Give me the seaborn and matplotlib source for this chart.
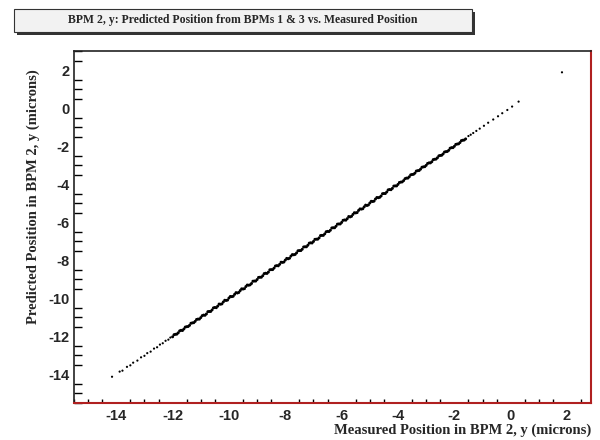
import matplotlib
matplotlib.use("Agg")
import matplotlib.pyplot as plt
from matplotlib.patches import Rectangle
from matplotlib.ticker import MultipleLocator
import seaborn as sns
import pandas as pd

title = "BPM 2, y: Predicted Position from BPMs 1 & 3 vs. Measured Position"
xlabel = "Measured Position in BPM 2, y (microns)"
ylabel = "Predicted Position in BPM 2, y (microns)"

# sparse tails
x_low = [-14.15, -13.88, -13.78, -13.62, -13.5, -13.4, -13.25, -13.12, -13.0, -12.9,
         -12.78, -12.66, -12.55, -12.45, -12.35, -12.25, -12.15, -12.08]
y_low = [-14.12, -13.85, -13.80, -13.60, -13.52, -13.38, -13.27, -13.10, -13.02, -12.88,
         -12.80, -12.64, -12.57, -12.43, -12.36, -12.23, -12.17, -12.06]

x_high = [-1.5, -1.42, -1.33, -1.22, -1.1, -0.95, -0.8, -0.62, -0.45, -0.3, -0.12, 0.05, 0.28, 1.82]
y_high = [-1.47, -1.40, -1.31, -1.20, -1.08, -0.93, -0.77, -0.60, -0.43, -0.27, -0.10, 0.08, 0.34, 1.88]

# dense core of the band
x_dense = [-12.0, -11.9, -11.8, -11.7, -11.6, -11.5, -11.4, -11.3, -11.2, -11.1,
           -11.0, -10.9, -10.8, -10.7, -10.6, -10.5, -10.4, -10.3, -10.2, -10.1,
           -10.0, -9.9, -9.8, -9.7, -9.6, -9.5, -9.4, -9.3, -9.2, -9.1,
           -9.0, -8.9, -8.8, -8.7, -8.6, -8.5, -8.4, -8.3, -8.2, -8.1,
           -8.0, -7.9, -7.8, -7.7, -7.6, -7.5, -7.4, -7.3, -7.2, -7.1,
           -7.0, -6.9, -6.8, -6.7, -6.6, -6.5, -6.4, -6.3, -6.2, -6.1,
           -6.0, -5.9, -5.8, -5.7, -5.6, -5.5, -5.4, -5.3, -5.2, -5.1,
           -5.0, -4.9, -4.8, -4.7, -4.6, -4.5, -4.4, -4.3, -4.2, -4.1,
           -4.0, -3.9, -3.8, -3.7, -3.6, -3.5, -3.4, -3.3, -3.2, -3.1,
           -3.0, -2.9, -2.8, -2.7, -2.6, -2.5, -2.4, -2.3, -2.2, -2.1,
           -2.0, -1.9, -1.8, -1.7, -1.6]
y_dense = [-12.02, -11.89, -11.81, -11.68, -11.61, -11.49, -11.42, -11.29, -11.21, -11.09,
           -11.01, -10.88, -10.82, -10.69, -10.61, -10.48, -10.41, -10.31, -10.19, -10.11,
           -9.98, -9.91, -9.79, -9.72, -9.59, -9.51, -9.38, -9.31, -9.22, -9.09,
           -9.01, -8.89, -8.81, -8.68, -8.62, -8.49, -8.41, -8.28, -8.21, -8.11,
           -7.99, -7.92, -7.78, -7.71, -7.61, -7.49, -7.42, -7.29, -7.21, -7.08,
           -7.01, -6.89, -6.82, -6.69, -6.61, -6.48, -6.42, -6.29, -6.21, -6.09,
           -6.01, -5.88, -5.81, -5.72, -5.59, -5.51, -5.38, -5.31, -5.19, -5.12,
           -4.99, -4.91, -4.78, -4.71, -4.62, -4.49, -4.41, -4.28, -4.22, -4.09,
           -4.01, -3.89, -3.81, -3.68, -3.61, -3.49, -3.42, -3.29, -3.21, -3.09,
           -3.01, -2.88, -2.82, -2.69, -2.61, -2.49, -2.41, -2.29, -2.22, -2.08,
           -2.01, -1.89, -1.81, -1.69, -1.62]

x_dense2 = [-11.95, -11.85, -11.75, -11.65, -11.55, -11.45, -11.35, -11.25, -11.15, -11.05,
            -10.95, -10.85, -10.75, -10.65, -10.55, -10.45, -10.35, -10.25, -10.15, -10.05,
            -9.95, -9.85, -9.75, -9.65, -9.55, -9.45, -9.35, -9.25, -9.15, -9.05,
            -8.95, -8.85, -8.75, -8.65, -8.55, -8.45, -8.35, -8.25, -8.15, -8.05,
            -7.95, -7.85, -7.75, -7.65, -7.55, -7.45, -7.35, -7.25, -7.15, -7.05,
            -6.95, -6.85, -6.75, -6.65, -6.55, -6.45, -6.35, -6.25, -6.15, -6.05,
            -5.95, -5.85, -5.75, -5.65, -5.55, -5.45, -5.35, -5.25, -5.15, -5.05,
            -4.95, -4.85, -4.75, -4.65, -4.55, -4.45, -4.35, -4.25, -4.15, -4.05,
            -3.95, -3.85, -3.75, -3.65, -3.55, -3.45, -3.35, -3.25, -3.15, -3.05,
            -2.95, -2.85, -2.75, -2.65, -2.55, -2.45, -2.35, -2.25, -2.15, -2.05,
            -1.95, -1.85, -1.75, -1.65]
y_dense2 = [-11.91, -11.88, -11.71, -11.69, -11.51, -11.48, -11.31, -11.28, -11.11, -11.09,
            -10.91, -10.89, -10.70, -10.69, -10.50, -10.49, -10.30, -10.29, -10.10, -10.09,
            -9.90, -9.89, -9.70, -9.69, -9.50, -9.49, -9.30, -9.29, -9.10, -9.09,
            -8.90, -8.89, -8.70, -8.69, -8.50, -8.49, -8.30, -8.29, -8.10, -8.09,
            -7.90, -7.89, -7.70, -7.69, -7.50, -7.49, -7.30, -7.29, -7.10, -7.09,
            -6.90, -6.89, -6.70, -6.69, -6.50, -6.49, -6.30, -6.29, -6.10, -6.09,
            -5.90, -5.89, -5.70, -5.69, -5.50, -5.49, -5.30, -5.29, -5.10, -5.09,
            -4.90, -4.89, -4.70, -4.69, -4.50, -4.49, -4.30, -4.29, -4.10, -4.09,
            -3.91, -3.88, -3.71, -3.68, -3.51, -3.48, -3.31, -3.28, -3.11, -3.08,
            -2.91, -2.88, -2.71, -2.68, -2.51, -2.48, -2.31, -2.28, -2.11, -2.08,
            -1.91, -1.88, -1.71, -1.68]

sparse = pd.DataFrame({"measured": x_low + x_high, "predicted": y_low + y_high})
dense = pd.DataFrame({"measured": x_dense + x_dense2, "predicted": y_dense + y_dense2})

sns.set_theme(style="white")
plt.rcParams["font.family"] = ["Liberation Sans", "DejaVu Sans"]
plt.rcParams["axes.unicode_minus"] = False

fig = plt.figure(figsize=(6, 4.4), dpi=100)
ax = fig.add_axes([74 / 600, 1 - 403 / 440, (591 - 74) / 600, (403 - 51) / 440])

sns.scatterplot(data=dense, x="measured", y="predicted", ax=ax, s=4.5,
                color="black", edgecolor="none", linewidth=0)
sns.scatterplot(data=sparse, x="measured", y="predicted", ax=ax, s=2.5,
                color="black", edgecolor="none", linewidth=0)

ax.set_xlim(-15.5, 2.85)
ax.set_ylim(-15.5, 3.0)

ax.xaxis.set_major_locator(MultipleLocator(2))
ax.xaxis.set_minor_locator(MultipleLocator(0.5))
ax.yaxis.set_major_locator(MultipleLocator(2))
ax.yaxis.set_minor_locator(MultipleLocator(0.5))

ax.tick_params(axis="x", which="major", direction="in", length=6, width=1,
               color="black", labelsize=10.5, pad=4, top=False)
ax.tick_params(axis="x", which="minor", direction="in", length=3, width=1,
               color="black", bottom=True, top=False)
ax.tick_params(axis="y", which="major", direction="in", length=11.5, width=1,
               color="black", labelsize=10.5, pad=3, right=False)
ax.tick_params(axis="y", which="minor", direction="in", length=5.8, width=1,
               color="black", left=True, right=False)
for lab in ax.get_xticklabels() + ax.get_yticklabels():
    lab.set_fontweight("bold")

for side in ["left", "top"]:
    ax.spines[side].set_color("#222222")
    ax.spines[side].set_linewidth(1.2)
for side in ["right", "bottom"]:
    ax.spines[side].set_color("#b02020")
    ax.spines[side].set_linewidth(1.5)

ax.set_xlabel("")
ax.set_ylabel("")
fig.text(591 / 600, 1 - 430 / 440, xlabel, ha="right", va="center",
         fontsize=10.5, fontweight="bold", family="Liberation Serif")
fig.text(33 / 600, 1 - 197 / 440, ylabel, ha="center", va="center", rotation=90,
         fontsize=10.5, fontweight="bold", family="Liberation Serif")

# title box with shadow
bx0, by0, bx1, by1 = 14 / 600, 1 - 32 / 440, 472 / 600, 1 - 9 / 440
fig.patches.append(Rectangle((bx0 + 3 / 600, by0 - 3 / 440), bx1 - bx0, by1 - by0,
                             transform=fig.transFigure, facecolor="#333333",
                             edgecolor="none", zorder=1))
fig.patches.append(Rectangle((bx0, by0), bx1 - bx0, by1 - by0,
                             transform=fig.transFigure, facecolor="#f2f2f2",
                             edgecolor="#333333", linewidth=0.8, zorder=2))
fig.text((bx0 + bx1) / 2, (by0 + by1) / 2, title, ha="center", va="center",
         fontsize=8.5, fontweight="bold", family="Liberation Serif", zorder=3)

fig.savefig("out.png", dpi=100)
